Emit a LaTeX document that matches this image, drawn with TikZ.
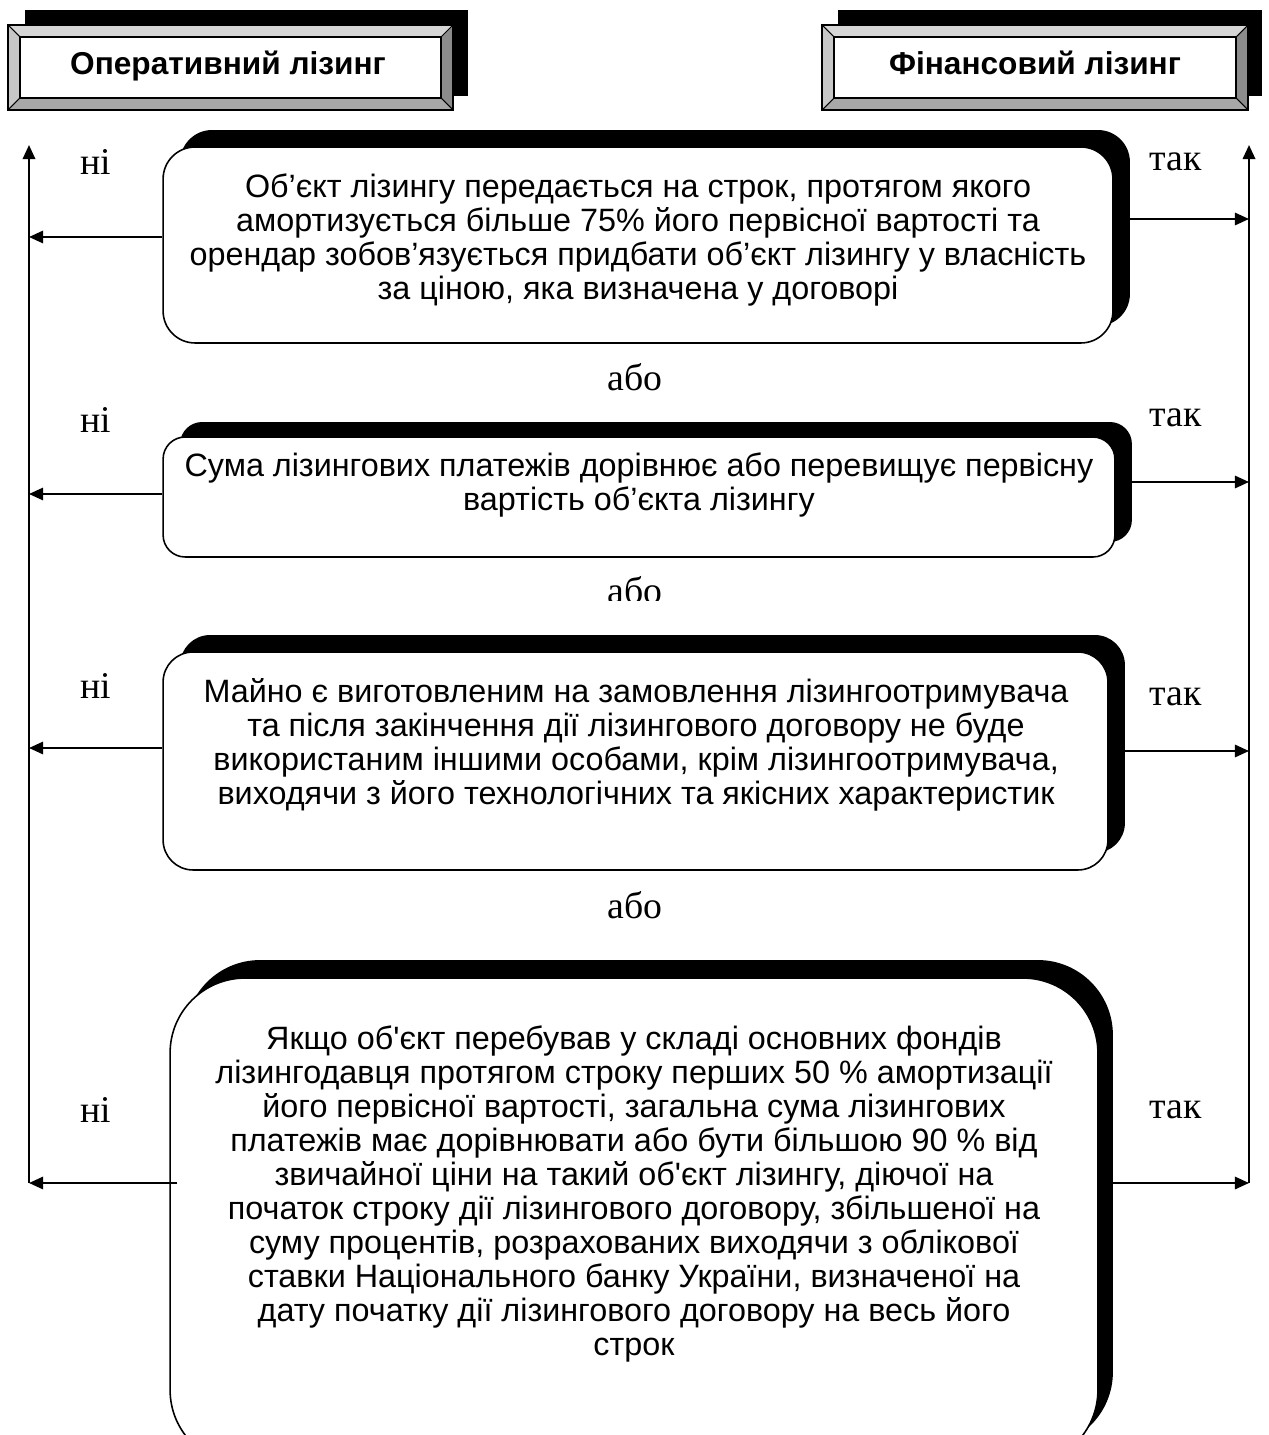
\documentclass[tikz,border=0pt]{standalone}
\usepackage{fontspec}
\setmainfont{Liberation Serif}
\newfontfamily\arialf{Liberation Sans}[Ligatures=TeXOff]
\newfontfamily\timesf{Liberation Serif}
\usetikzlibrary{arrows.meta,calc}
\definecolor{bevtop}{gray}{0.84}
\definecolor{bevleft}{gray}{0.78}
\definecolor{bevright}{gray}{0.55}
\definecolor{bevbot}{gray}{0.66}
\tikzset{
  frontbox/.style={draw=black, line width=0.9pt, fill=white, rounded corners=#1, inner sep=0pt},
  shadowbox/.style={fill=black, rounded corners=#1, inner sep=0pt},
  bodytxt/.style={font=\arialf\fontsize{18.4}{19.3}\selectfont, align=center, inner sep=0pt},
  headtxt/.style={font=\arialf\bfseries\fontsize{18}{21}\selectfont, inner sep=0pt, anchor=base},
  lbl/.style={font=\timesf\fontsize{21.5}{24}\selectfont, inner sep=0pt},
  conn/.style={line width=1.2pt, -{Triangle[length=8pt,width=7pt]}},
  vline/.style={line width=1.4pt, -{Triangle[length=8pt,width=7pt]}},
  bevline/.style={draw=black, line width=0.6pt},
}
\newcommand\bevelbox[4]{%
  \fill[bevtop] (#1,#2) -- (#3,#2) -- (#3-12,#2+12) -- (#1+12,#2+12) -- cycle;
  \fill[bevleft] (#1,#2) -- (#1+12,#2+12) -- (#1+12,#4-12) -- (#1,#4) -- cycle;
  \fill[bevright] (#3,#2) -- (#3,#4) -- (#3-12,#4-12) -- (#3-12,#2+12) -- cycle;
  \fill[bevbot] (#1,#4) -- (#3,#4) -- (#3-12,#4-12) -- (#1+12,#4-12) -- cycle;
  \filldraw[fill=white, bevline] (#1+12,#2+12) rectangle (#3-12,#4-12);
  \draw[bevline] (#1,#2) rectangle (#3,#4);
  \draw[bevline] (#1,#2) -- (#1+12,#2+12) (#3,#2) -- (#3-12,#2+12)
                 (#1,#4) -- (#1+12,#4-12) (#3,#4) -- (#3-12,#4-12);
}
\begin{document}
\begin{tikzpicture}[x=0.02cm,y=-0.02cm]
\useasboundingbox (0,0) rectangle (1268,1435);

% headers
\fill[black] (25,10) rectangle (468,96);
\bevelbox{8}{25}{453}{110}
\node[headtxt] (h1) at (228,75) {Оперативний лізинг};
\fill[black] (838,10) rectangle (1262,96);
\bevelbox{822}{25}{1248}{110}
\node[headtxt] (h2) at (1035,75) {Фінансовий лізинг};

% box 1
\node[shadowbox=0.64cm, minimum width=19cm, minimum height=3.92cm] (s1) at (655,228) {};
\node[frontbox=0.64cm, minimum width=19cm, minimum height=3.92cm] (b1) at (638,245) {};
\node[bodytxt] (t1) at (638,240) {Об’єкт лізингу передається на строк, протягом якого\\
амортизується більше 75\% його первісної вартості та\\
орендар зобов’язується придбати об’єкт лізингу у власність\\
за ціною, яка визначена у договорі};

% box 2
\node[shadowbox=0.44cm, minimum width=19.04cm, minimum height=2.4cm] (s2) at (656,482) {};
\node[frontbox=0.44cm, minimum width=19.04cm, minimum height=2.4cm] (b2) at (639,497) {};
\node[bodytxt] (t2) at (639,485) {Сума лізингових платежів дорівнює або перевищує первісну\\
вартість об’єкта лізингу};

% box 3
\node[shadowbox=0.6cm, minimum width=18.9cm, minimum height=4.36cm] (s3) at (652.5,744) {};
\node[frontbox=0.6cm, minimum width=18.9cm, minimum height=4.36cm] (b3) at (635.5,761) {};
\node[bodytxt] (t3) at (636,745) {Майно є виготовленим на замовлення лізингоотримувача\\
та після закінчення дії лізингового договору не буде\\
використаним іншими особами, крім лізингоотримувача,\\
виходячи з його технологічних та якісних характеристик};

% box 4
\node[shadowbox=1.5cm, minimum width=18.56cm, minimum height=9.74cm] (s4) at (649,1203.5) {};
\node[frontbox=1.5cm, minimum width=18.56cm, minimum height=9.74cm] (b4) at (634,1221.5) {};
\node[bodytxt] (t4) at (634,1194) {Якщо об'єкт перебував у складі основних фондів\\
лізингодавця протягом строку перших 50 \% амортизації\\
його первісної вартості, загальна сума лізингових\\
платежів має дорівнювати або бути більшою 90 \% від\\
звичайної ціни на такий об'єкт лізингу, діючої на\\
початок строку дії лізингового договору, збільшеної на\\
суму процентів, розрахованих виходячи з облікової\\
ставки Національного банку України, визначеної на\\
дату початку дії лізингового договору на весь його\\
строк};

% "або" labels
\node[lbl] (a1) at (635,377) {або};
\begin{scope}
  \clip (500,560) rectangle (800,600);
  \node[lbl] (a2) at (635,590) {або};
\end{scope}
\node[lbl] (a3) at (635,905) {або};

% side labels
\node[lbl] (n1) at (96,162) {ні};
\node[lbl] (n2) at (96,420) {ні};
\node[lbl] (n3) at (96,686) {ні};
\node[lbl] (n4) at (96,1110) {ні};
\node[lbl] (y1) at (1176,162) {так};
\node[lbl] (y2) at (1176,418) {так};
\node[lbl] (y3) at (1176,697) {так};
\node[lbl] (y4) at (1176,1110) {так};

% vertical lines
\coordinate (Ltop) at (29,145);
\coordinate (Lbot) at (29,1183);
\coordinate (Rtop) at (1249,145);
\coordinate (Rbot) at (1249,1183);
\draw[vline] (Lbot) -- (Ltop);
\draw[vline] (Rbot) -- (Rtop);

% left arrows
\coordinate (L1) at (29,237);
\coordinate (L2) at (29,494);
\coordinate (L3) at (29,748);
\coordinate (L4) at (29,1183);
\draw[conn] (b1.west|-L1) -- (L1);
\draw[conn] (b2.west|-L2) -- (L2);
\draw[conn] (b3.west|-L3) -- (L3);
\draw[conn] ($(b4.west|-L4)+(8,0)$) -- (L4);

% right arrows
\coordinate (R1) at (1249,219);
\coordinate (R2) at (1249,482);
\coordinate (R3) at (1249,751);
\coordinate (R4) at (1249,1183);
\draw[conn] (s1.east|-R1) -- (R1);
\draw[conn] (b2.east|-R2) -- (R2);
\draw[conn] (s3.east|-R3) -- (R3);
\draw[conn] (s4.east|-R4) -- (R4);
\end{tikzpicture}
\end{document}
